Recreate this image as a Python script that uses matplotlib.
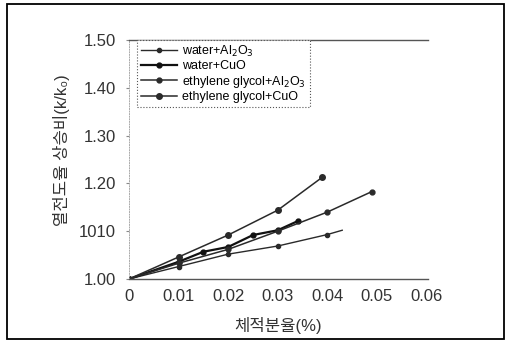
import matplotlib.pyplot as plt
from matplotlib.patches import Rectangle

plt.rcParams['font.family'] = ['Liberation Sans', 'Noto Sans CJK KR', 'DejaVu Sans']

# data
x_wal = [0, 0.01, 0.02, 0.03, 0.04, 0.043]
y_wal = [1.0, 1.026, 1.052, 1.069, 1.093, 1.102]
x_wcu = [0, 0.01, 0.015, 0.02, 0.025, 0.03, 0.034]
y_wcu = [1.0, 1.036, 1.057, 1.067, 1.092, 1.102, 1.121]
x_eal = [0, 0.01, 0.02, 0.03, 0.04, 0.049]
y_eal = [1.0, 1.033, 1.062, 1.10, 1.14, 1.183]
x_ecu = [0, 0.01, 0.02, 0.03, 0.039]
y_ecu = [1.0, 1.046, 1.092, 1.144, 1.213]

labels = ['water+Al$_2$O$_3$', 'water+CuO',
          'ethylene glycol+Al$_2$O$_3$', 'ethylene glycol+CuO']

xticks = [0, 0.01, 0.02, 0.03, 0.04, 0.05, 0.06]
xticklabels = ['0', '0.01', '0.02', '0.03', '0.04', '0.05', '0.06']
yticks = [1.0, 1.1, 1.2, 1.3, 1.4, 1.5]
yticklabels = ['1.00', '1010', '1.20', '1.30', '1.40', '1.50']

fig = plt.figure(figsize=(5.07, 3.43), dpi=100)
ax = fig.add_axes([129 / 507, 64 / 343, 299 / 507, 239 / 343])

ink = '#2a2a2a'
ax.plot(x_wal, y_wal, color=ink, lw=1.0, marker='o', ms=3, markevery=[0, 1, 2, 3, 4], label=labels[0])
ax.plot(x_wcu, y_wcu, color='#111', lw=1.6, marker='o', ms=3.5, label=labels[1])
ax.plot(x_eal, y_eal, color=ink, lw=1.1, marker='o', ms=3.5, label=labels[2])
ax.plot(x_ecu, y_ecu, color=ink, lw=1.1, marker='o', ms=4, label=labels[3])

ax.set_xlim(0, 0.0603)
ax.set_ylim(1.0, 1.5)
ax.set_xticks(xticks)
ax.set_xticklabels(xticklabels)
ax.set_yticks(yticks)
ax.set_yticklabels(yticklabels)
ax.tick_params(axis='x', length=0, pad=7, labelsize=12, labelcolor='#333')
ax.tick_params(axis='y', length=2.5, width=0.8, color='#888', pad=7, labelsize=12, labelcolor='#333')

for s in ['top', 'bottom']:
    ax.spines[s].set_linestyle((0, (4, 1)))
    ax.spines[s].set_linewidth(1.0)
    ax.spines[s].set_color('#555')
ax.spines['left'].set_linestyle(':')
ax.spines['left'].set_color('#aaa')
ax.spines['left'].set_linewidth(0.7)
ax.spines['right'].set_visible(False)

ax.set_xlabel('체적분율(%)', fontsize=12, color='#333')
ax.xaxis.set_label_coords(0.498, -0.16)
ax.set_ylabel('열전도율 상승비(k/k₀)', fontsize=12, color='#333')
ax.yaxis.set_label_coords(-0.198, 0.54)

leg = ax.legend(loc='upper left', bbox_to_anchor=(0.027, 1.0), fontsize=9,
                handlelength=2.9, labelspacing=0.12, borderpad=0.3,
                handletextpad=0.4, borderaxespad=0, fancybox=False,
                framealpha=1)
leg.get_frame().set_linestyle(':')
leg.get_frame().set_edgecolor('#555')
leg.get_frame().set_linewidth(0.8)

fig.add_artist(Rectangle((7 / 507, 4 / 343), 497 / 507, 335 / 343,
                         transform=fig.transFigure, fill=False,
                         edgecolor='black', lw=1.3))

fig.savefig('out.png', dpi=100)
